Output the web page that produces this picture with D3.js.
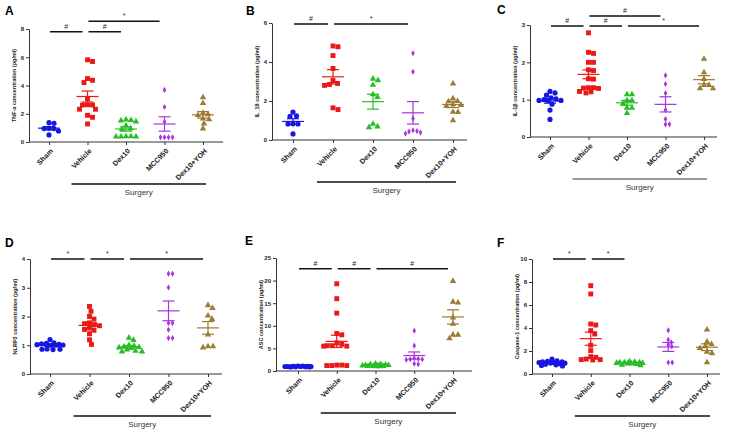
<!DOCTYPE html>
<html>
<head>
<meta charset="utf-8">
<script src="https://cdn.jsdelivr.net/npm/d3@7"></script>
<style>
  body { margin: 0; background: #fff; }
  svg { display: block; font-family: "Liberation Sans", Arial, sans-serif; }
</style>
</head>
<body>
<script>
// groups shared by every panel
var groups = ["Sham", "Vehicle", "Dex10", "MCC950", "Dex10+YOH"];
var groupColors = ["#1616e2", "#ec1717", "#26bf26", "#a934e0", "#9c7b32"];
var groupShapes = ["circle", "square", "triangle", "diamond", "triangle"];

// A - TNF-a
var tnfValues = [
  [1.37, 1.33, 0.95, 0.95, 0.97, 0.78, 0.5],
  [5.82, 5.7, 4.49, 4.37, 4.21, 3.07, 2.64, 2.62, 2.62, 2.32, 2.32, 1.89, 1.75, 1.28],
  [1.55, 1.58, 1.52, 1.45, 1.15, 0.95, 0.9, 0.4, 0.38, 0.38, 0.4, 0.38],
  [3.69, 2.48, 1.44, 0.33, 0.33, 0.33, 0.33],
  [3.15, 2.75, 2.05, 1.95, 1.9, 1.65, 1.6, 1.3, 0.95]
];
var tnfTicks = [0, 2, 4, 6, 8];
var tnfSig = [[0, 1, "#", 7.8], [1, 2, "#", 7.8], [1, 3, "*", 8.55]];

// B - IL-18
var il18Values = [
  [1.43, 1.21, 1.24, 0.83, 0.82, 0.82, 0.31],
  [4.82, 4.78, 4.33, 3.67, 3.05, 2.85, 2.8, 2.9, 1.56, 1.65],
  [3.14, 3.06, 2.82, 2.34, 2.2, 0.82, 0.65, 0.69],
  [4.45, 3.5, 1.1, 0.5, 0.43, 0.33, 0.38, 0.46],
  [2.89, 1.99, 2.13, 1.98, 1.82, 1.74, 1.79, 1.43, 1.44, 1.0]
];
var il18Ticks = [0, 2, 4, 6];
var il18Sig = [[0, 1, "#", 5.95], [1, 3, "*", 5.95]];

// C - IL-1b
var il1bValues = [
  [1.22, 1.18, 1.12, 1.0, 1.02, 0.98, 0.97, 0.98, 0.88, 0.72, 0.47, 1.05],
  [2.79, 2.27, 2.24, 2.0, 2.0, 1.8, 1.78, 1.56, 1.55, 1.32, 1.31, 1.32, 1.3, 1.21, 1.18, 1.22],
  [1.14, 1.14, 0.98, 0.89, 0.98, 0.78, 0.64, 0.78],
  [1.65, 1.42, 1.17, 0.72, 0.48, 0.34, 0.34],
  [2.09, 1.73, 1.55, 1.39, 1.39, 1.3, 1.3]
];
var il1bTicks = [0, 1, 2, 3];
var il1bSig = [[0, 1, "#", 2.97], [1, 2, "#", 2.97], [2, 4, "*", 2.97], [1, 3, "#", 3.24]];

// D - NLRP3
var nlrp3Values = [
  [1.2, 1.02, 1.0, 1.0, 1.01, 1.03, 1.07, 1.08, 1.05, 0.86, 0.85, 0.86, 0.87],
  [2.35, 2.18, 2.0, 1.91, 1.78, 1.75, 1.72, 1.68, 1.6, 1.55, 1.52, 1.4, 1.19, 1.03],
  [1.26, 1.18, 1.0, 0.98, 0.95, 0.93, 0.92, 0.9, 0.85, 0.8, 0.78, 0.78],
  [3.49, 3.49, 3.01, 1.77, 1.77, 1.54, 1.25, 1.25],
  [2.39, 2.29, 2.03, 1.91, 1.37, 0.96, 0.92, 0.96]
];
var nlrp3Ticks = [0, 1, 2, 3, 4];
var nlrp3Sig = [[0, 1, "*", 4.0], [1, 2, "*", 4.0], [2, 4, "*", 4.0]];

// E - ASC
var ascValues = [
  [1.1, 1.05, 1.0, 0.95, 1.0, 0.9, 1.1, 1.0, 0.95, 1.05, 0.9, 1.0],
  [19.3, 16.0, 12.8, 8.3, 8.0, 6.2, 5.9, 5.6, 5.5, 5.5, 5.6, 1.3, 1.2, 1.2, 1.2, 1.3],
  [1.6, 1.5, 1.4, 1.3, 1.2, 1.1, 1.05, 1.0, 1.0, 1.1, 1.2, 1.3, 1.45],
  [8.9, 5.6, 2.7, 2.6, 2.5, 2.6, 2.8, 1.6, 1.5],
  [19.9, 15.3, 15.1, 11.8, 10.4, 8.0, 8.0, 7.2]
];
var ascTicks = [0, 5, 10, 15, 20, 25];
var ascSig = [[0, 1, "#", 22.6], [1, 2, "#", 22.6], [2, 4, "#", 22.6]];

// F - Caspase-1
var caspValues = [
  [1.3, 1.15, 1.1, 1.05, 1.0, 1.0, 0.95, 0.9, 0.85, 0.8, 0.75, 0.7, 1.05, 0.95],
  [7.68, 6.96, 4.35, 4.26, 3.77, 3.48, 2.5, 2.03, 1.45, 1.25, 1.22, 1.25, 1.51, 1.3],
  [1.1, 1.05, 1.0, 1.0, 0.95, 0.95, 0.9, 0.9, 0.85, 0.8, 0.75, 1.0],
  [3.8, 2.98, 2.54, 2.75, 2.4, 1.0, 1.0],
  [3.86, 2.8, 2.6, 2.4, 2.25, 1.93, 1.8, 1.0]
];
var caspTicks = [0, 2, 4, 6, 8, 10];
var caspSig = [[0, 1, "*", 10], [1, 2, "*", 10]];

var panels = [
  {letter: "A", lx: 5, ly: 15, vals: tnfValues, ticks: tnfTicks, sig: tnfSig, title: "TNF-a concentration (pg/ml)",
   x0: 29, x1: 223, yTop: 29, yBot: 142, c0: 49, c1: 203, gray: false},
  {letter: "B", lx: 246, ly: 15, vals: il18Values, ticks: il18Ticks, sig: il18Sig, title: "IL_18 concentration (pg/ml)",
   x0: 272, x1: 467, yTop: 23, yBot: 140, c0: 293, c1: 453, gray: false},
  {letter: "C", lx: 497, ly: 14, vals: il1bValues, ticks: il1bTicks, sig: il1bSig, title: "IL-1\u03b2 concentration (pg/ml)",
   x0: 530, x1: 717, yTop: 25, yBot: 137, c0: 550, c1: 704, gray: true},
  {letter: "D", lx: 5, ly: 247, vals: nlrp3Values, ticks: nlrp3Ticks, sig: nlrp3Sig, title: "NLRP3 concentration (pg/ml)",
   x0: 30, x1: 222, yTop: 259, yBot: 374, c0: 50, c1: 208, gray: false},
  {letter: "E", lx: 245, ly: 245, vals: ascValues, ticks: ascTicks, sig: ascSig, title: "ASC concentration (pg/ml)",
   x0: 276, x1: 472, yTop: 258, yBot: 371, c0: 298, c1: 453, gray: false},
  {letter: "F", lx: 497, ly: 247, vals: caspValues, ticks: caspTicks, sig: caspSig, title: "Caspase-1 concentration (pg/ml)",
   x0: 532, x1: 720, yTop: 259, yBot: 374, c0: 552, c1: 707, gray: false}
];

var svg = d3.select("body").append("svg")
  .attr("width", 735)
  .attr("height", 432);

// simple swarm so points at similar heights sit side by side
function swarm(vals, y, diam, maxSpread) {
  var order = d3.range(vals.length).sort(function(a, b) { return vals[b] - vals[a]; });
  var placed = [], out = [];
  order.forEach(function(i) {
    var py = y(vals[i]);
    var best = 0, bestD = -1;
    for (var k = 0; k <= maxSpread * 4; k++) {
      var off = (k % 2 ? 1 : -1) * Math.ceil(k / 2) * 0.5;
      var minD = Infinity;
      placed.forEach(function(p) {
        var d = Math.hypot(p[0] - off, p[1] - py);
        if (d < minD) minD = d;
      });
      if (minD >= diam) { best = off; bestD = minD; break; }
      if (minD > bestD) { bestD = minD; best = off; }
    }
    placed.push([best, py]);
    out[i] = [best, py];
  });
  return out;
}

var symbolTypes = {
  circle: [d3.symbolCircle, 21],
  square: [d3.symbolSquare, 24],
  triangle: [d3.symbolTriangle, 18],
  diamond: [d3.symbolDiamond, 11]
};

panels.forEach(function(p) {
  var g = svg.append("g");
  var y = d3.scaleLinear().domain([0, d3.max(p.ticks)]).range([p.yBot, p.yTop]);
  var x = d3.scalePoint().domain(groups).range([p.c0, p.c1]);

  g.append("text")
    .attr("x", p.lx).attr("y", p.ly)
    .style("font", "bold 12px 'Liberation Sans', Arial")
    .text(p.letter);

  // y axis
  var yAxis = g.append("g")
    .attr("transform", "translate(" + p.x0 + ",0)")
    .call(d3.axisLeft(y).tickValues(p.ticks).tickFormat(d3.format("d"))
      .tickSize(3).tickSizeOuter(0).tickPadding(2));
  yAxis.select(".domain").attr("stroke", "#333").attr("stroke-width", 1);
  yAxis.selectAll(".tick line").attr("stroke", "#333");
  yAxis.selectAll(".tick text").style("font", "bold 6px 'Liberation Sans', Arial").attr("fill", "#222");

  // x axis
  var xAxis = g.append("g")
    .attr("transform", "translate(0," + p.yBot + ")")
    .call(d3.axisBottom(x).tickSize(3).tickSizeOuter(0).tickFormat(""));
  xAxis.select(".domain").attr("d", "M" + p.x0 + ",0H" + p.x1).attr("stroke", "#333");
  xAxis.selectAll(".tick line").attr("stroke", "#333");

  groups.forEach(function(name) {
    g.append("text")
      .attr("transform", "translate(" + (x(name) + 3) + "," + (p.yBot + 8) + ") rotate(-45)")
      .attr("text-anchor", "end")
      .attr("dy", "0.3em")
      .style("font", "bold 7.2px 'Liberation Sans', Arial")
      .attr("fill", "#222")
      .text(name);
  });

  g.append("text")
    .attr("transform", "translate(" + (p.x0 - 13) + "," + ((p.yTop + p.yBot) / 2) + ") rotate(-90)")
    .attr("text-anchor", "middle")
    .style("font", "bold 5.5px 'Liberation Sans', Arial")
    .attr("fill", "#222")
    .text(p.title);

  // points, mean and SEM
  p.vals.forEach(function(vals, gi) {
    var col = groupColors[gi];
    var st = symbolTypes[groupShapes[gi]];
    var diam = groupShapes[gi] === "diamond" ? 3.8 : 5;
    var pos = swarm(vals, y, diam, 13);
    g.append("g").selectAll("path")
      .data(vals)
      .join("path")
      .attr("transform", function(d, i) { return "translate(" + (x(groups[gi]) + pos[i][0]) + "," + pos[i][1] + ")"; })
      .attr("d", d3.symbol().type(st[0]).size(st[1]))
      .attr("fill", col);

    var m = d3.mean(vals);
    var sem = d3.deviation(vals) / Math.sqrt(vals.length);
    var cx = x(groups[gi]);
    var eg = g.append("g").attr("stroke", col).attr("stroke-width", 1.2);
    eg.append("line").attr("x1", cx - 11).attr("x2", cx + 11).attr("y1", y(m)).attr("y2", y(m));
    eg.append("line").attr("x1", cx).attr("x2", cx).attr("y1", y(m + sem)).attr("y2", y(m - sem));
    eg.append("line").attr("x1", cx - 6).attr("x2", cx + 6).attr("y1", y(m + sem)).attr("y2", y(m + sem));
    eg.append("line").attr("x1", cx - 6).attr("x2", cx + 6).attr("y1", y(m - sem)).attr("y2", y(m - sem));
  });

  // significance bars
  p.sig.forEach(function(s) {
    var xa = x(groups[s[0]]) + 1, xb = x(groups[s[1]]) - 5, yy = y(s[3]);
    g.append("line")
      .attr("x1", xa).attr("x2", xb).attr("y1", yy).attr("y2", yy)
      .attr("stroke", "#111").attr("stroke-width", 1.5);
    g.append("text")
      .attr("x", (xa + xb) / 2).attr("y", yy - 3)
      .attr("text-anchor", "middle")
      .style("font", "7px 'Liberation Sans', Arial")
      .attr("fill", "#222")
      .text(s[2]);
  });

  // surgery bracket
  var sy = p.yBot + 42;
  var sx0 = x("Vehicle") - 16, sx1 = x("Dex10+YOH") + 3;
  g.append("line")
    .attr("x1", sx0).attr("x2", sx1).attr("y1", sy).attr("y2", sy)
    .attr("stroke", p.gray ? "#777" : "#111").attr("stroke-width", 1.5);
  g.append("text")
    .attr("x", (sx0 + sx1) / 2).attr("y", sy + 11)
    .attr("text-anchor", "middle")
    .style("font", "8px 'Liberation Sans', Arial")
    .attr("fill", "#333")
    .text("Surgery");
});
</script>
</body>
</html>
